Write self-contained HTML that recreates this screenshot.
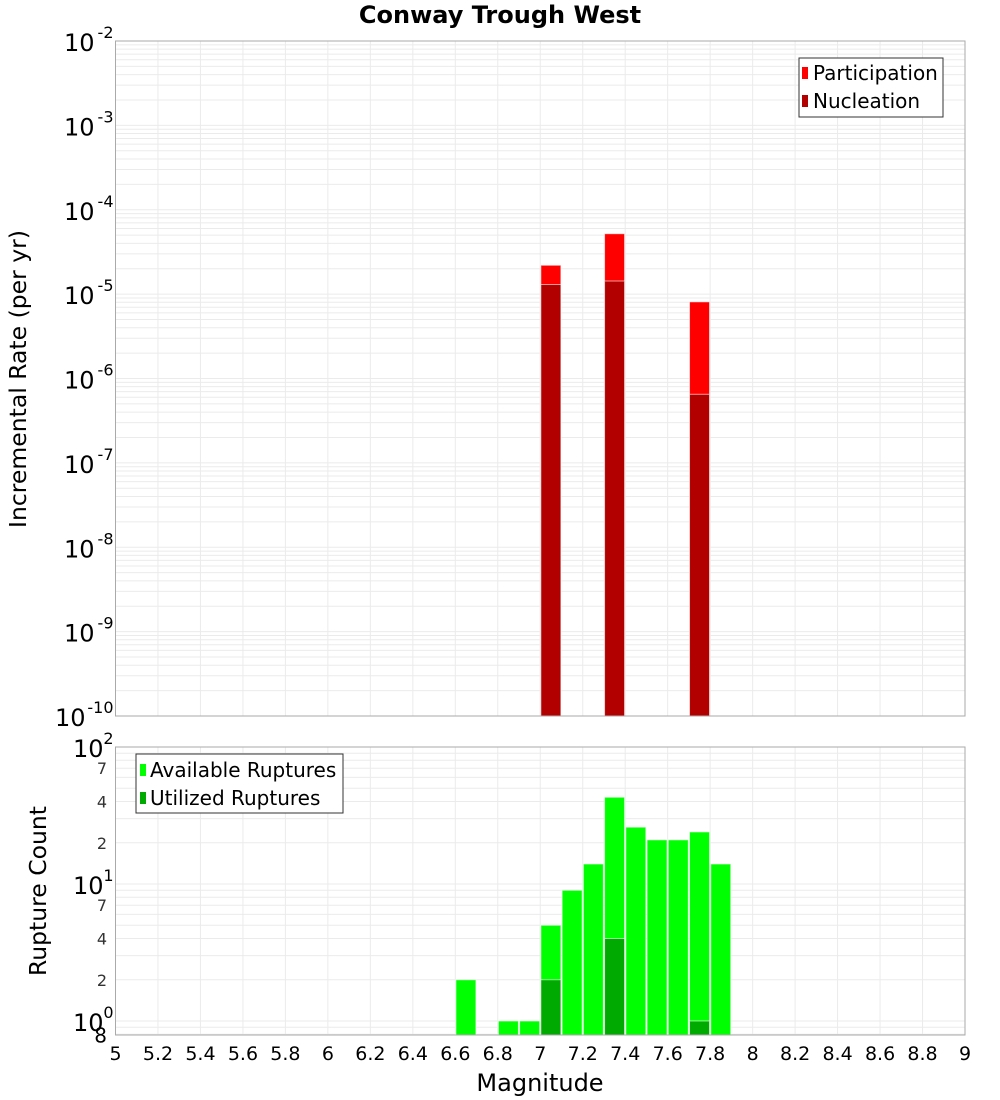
<!DOCTYPE html>
<html><head><meta charset="utf-8"><style>
body{margin:0;background:#fff;}
svg{display:block;font-family:"DejaVu Sans","Liberation Sans",sans-serif;}
</style></head><body>
<svg id="chart" width="1000" height="1100" viewBox="0 0 1000 1100" xmlns="http://www.w3.org/2000/svg">
<text x="500" y="23" text-anchor="middle" font-size="24" font-weight="bold">Conway Trough West</text>
<g id="gtop"></g>
<g id="gbot"></g>
<text transform="translate(26,379) rotate(-90)" text-anchor="middle" font-size="23.5">Incremental Rate (per yr)</text>
<text transform="translate(46,891) rotate(-90)" text-anchor="middle" font-size="23.5">Rupture Count</text>
<text x="540" y="1091" text-anchor="middle" font-size="24">Magnitude</text>
<g>
<rect x="799" y="58" width="144" height="59" fill="#fff" stroke="#333" stroke-width="1"/>
<rect x="802" y="67" width="6" height="12" fill="#ff0000"/>
<text x="813" y="80" font-size="20">Participation</text>
<rect x="802" y="95" width="6" height="12" fill="#b20000"/>
<text x="813" y="108" font-size="20">Nucleation</text>
</g>
<g>
<rect x="136" y="754" width="207" height="59" fill="#fff" stroke="#333" stroke-width="1"/>
<rect x="140" y="764" width="6" height="12" fill="#00ff00"/>
<text x="150" y="777" font-size="20">Available Ruptures</text>
<rect x="140" y="792" width="6" height="12" fill="#00aa00"/>
<text x="150" y="805" font-size="20">Utilized Ruptures</text>
</g>
</svg>
<script>
const rateMags=[7.05,7.35,7.75];
const participation=[2.2e-5,5.2e-5,8.1e-6];
const nucleation=[1.3e-5,1.43e-5,6.5e-7];
const countMags=[6.65,6.85,6.95,7.05,7.15,7.25,7.35,7.45,7.55,7.65,7.75,7.85];
const available=[2,1,1,5,9,14,43,26,21,21,24,14];
const utilizedMags=[7.05,7.35,7.75];
const utilized=[2,4,1];
const xTicks=[5,5.2,5.4,5.6,5.8,6,6.2,6.4,6.6,6.8,7,7.2,7.4,7.6,7.8,8,8.2,8.4,8.6,8.8,9];
const topExps=[-2,-3,-4,-5,-6,-7,-8,-9,-10];
const botExps=[2,1,0];
const botMinorLabels=[7,4,2];

const NS="http://www.w3.org/2000/svg";
const X0=115.5,X1=965,TY0=41,TY1=716,BY0=747,BY1=1035;
const xs=m=>X0+(m-5)/4*(X1-X0);
const ty=v=>TY0+(-2-Math.log10(v))*(TY1-TY0)/8;
const bDec=137;
const by=v=>BY0+(2-Math.log10(v))*bDec;
function mk(p,t,a){const e=document.createElementNS(NS,t);for(const k in a)e.setAttribute(k,a[k]);p.appendChild(e);return e;}
const gTop=document.getElementById('gtop'),gBot=document.getElementById('gbot');

function grid(g,y0,y1,yf,emin,emax){
  for(const t of xTicks){const l=mk(g,'line',{x1:xs(t),x2:xs(t),y1:y0,y2:y1,stroke:'#ebebeb'});
  
  }
  for(let e=emin;e<=emax;e++)for(let k=1;k<=9;k++){const y=yf(k*Math.pow(10,e));if(y<y0-0.5||y>y1+0.5)continue;
    const l=mk(g,'line',{x1:X0,x2:X1,y1:y,y2:y,stroke:'#ebebeb'});
    
    }
}
grid(gTop,TY0,TY1,ty,-10,-3);
grid(gBot,BY0,BY1,by,-1,1);

function bar(g,m,v,base,yf,fill,name){const x=xs(m)-10,y=yf(v);
  const r=mk(g,'rect',{x:x,y:y,width:20,height:base-y,fill:fill,stroke:'#fff','stroke-opacity':0.6,'stroke-width':1});
  
  }
rateMags.forEach((m,i)=>bar(gTop,m,participation[i],TY1,ty,'#ff0000','participation-bar'));
rateMags.forEach((m,i)=>bar(gTop,m,nucleation[i],TY1,ty,'#b20000','nucleation-bar'));
countMags.forEach((m,i)=>bar(gBot,m,available[i],BY1,by,'#00ff00','available-bar'));
utilizedMags.forEach((m,i)=>bar(gBot,m,utilized[i],BY1,by,'#00aa00','utilized-bar'));

mk(gTop,'rect',{x:X0,y:TY0,width:X1-X0,height:TY1-TY0,fill:'none',stroke:'#aaa'});
mk(gBot,'rect',{x:X0,y:BY0,width:X1-X0,height:BY1-BY0,fill:'none',stroke:'#aaa'});

function expLabel(g,y,e){
  const s=String(e);
  const t=mk(g,'text',{x:X0-3-s.length*9,y:y+10,'text-anchor':'end','font-size':24});
  
  
  t.textContent='10';
  const b=mk(g,'text',{x:X0-2,y:y-3,'text-anchor':'end','font-size':16});
  
  
  b.textContent=s;
}
topExps.forEach(e=>expLabel(gTop,ty(Math.pow(10,e)),e));
botExps.forEach(e=>expLabel(gBot,by(Math.pow(10,e)),e));
for(const e of [1,0])for(const k of botMinorLabels){const y=by(k*Math.pow(10,e));
  const t=mk(gBot,'text',{x:107,y:y+6,'text-anchor':'end','font-size':16,fill:'#333'});
  
  
  t.textContent=k;}
{const t=mk(gBot,'text',{x:107,y:by(0.8)+8,'text-anchor':'end','font-size':20});


t.textContent='8';}
for(const v of xTicks){const t=mk(gBot,'text',{x:xs(v),y:1060,'text-anchor':'middle','font-size':19});
  
  
  t.textContent=String(v);}
</script>
</body></html>
